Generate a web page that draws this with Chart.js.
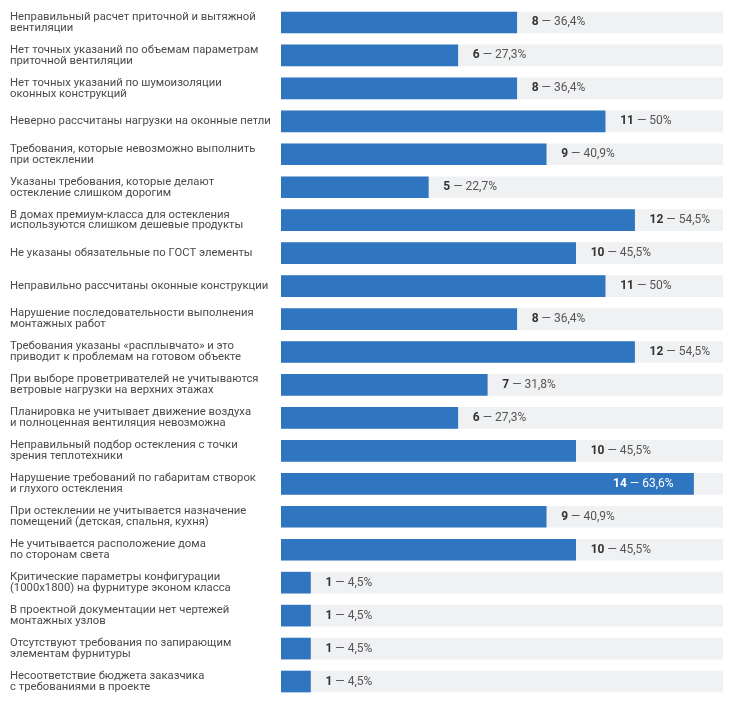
<!DOCTYPE html>
<html>
<head>
<meta charset="utf-8">
<script src="https://cdn.jsdelivr.net/npm/chart.js@4/dist/chart.umd.min.js"></script>
<style>
  html, body { margin: 0; padding: 0; background: #fff; }
  #wrap { width: 734px; height: 714px; }
</style>
</head>
<body>
<div id="wrap"><canvas id="chart"></canvas></div>
<script>
const labels = [
  ["Неправильный расчет приточной и вытяжной", "вентиляции"],
  ["Нет точных указаний по объемам параметрам", "приточной вентиляции"],
  ["Нет точных указаний по шумоизоляции", "оконных конструкций"],
  "Неверно рассчитаны нагрузки на оконные петли",
  ["Требования, которые невозможно выполнить", "при остеклении"],
  ["Указаны требования, которые делают", "остекление слишком дорогим"],
  ["В домах премиум-класса для остекления", "используются слишком дешевые продукты"],
  "Не указаны обязательные по ГОСТ элементы",
  "Неправильно рассчитаны оконные конструкции",
  ["Нарушение последовательности выполнения", "монтажных работ"],
  ["Требования указаны «расплывчато» и это", "приводит к проблемам на готовом объекте"],
  ["При выборе проветривателей не учитываются", "ветровые нагрузки на верхних этажах"],
  ["Планировка не учитывает движение воздуха", "и полноценная вентиляция невозможна"],
  ["Неправильный подбор остекления с точки", "зрения теплотехники"],
  ["Нарушение требований по габаритам створок", "и глухого остекления"],
  ["При остеклении не учитывается назначение", "помещений (детская, спальня, кухня)"],
  ["Не учитывается расположение дома", "по сторонам света"],
  ["Критические параметры конфигурации", "(1000x1800) на фурнитуре эконом класса"],
  ["В проектной документации нет чертежей", "монтажных узлов"],
  ["Отсутствуют требования по запирающим", "элементам фурнитуры"],
  ["Несоответствие бюджета заказчика", "с требованиями в проекте"],
];
const counts = [8, 6, 8, 11, 9, 5, 12, 10, 11, 8, 12, 7, 6, 10, 14, 9, 10, 1, 1, 1, 1];
const percents = ["36,4%", "27,3%", "36,4%", "50%", "40,9%", "22,7%", "54,5%", "45,5%", "50%", "36,4%",
  "54,5%", "31,8%", "27,3%", "45,5%", "63,6%", "40,9%", "45,5%", "4,5%", "4,5%", "4,5%", "4,5%"];
const trackMax = 15;
const track = labels.map(() => trackMax);

const FONT = "Roboto, sans-serif";

// подписи "N — X%" справа от столбца
const valueLabels = {
  id: "valueLabels",
  afterDatasetsDraw(chart) {
    const { ctx, chartArea } = chart;
    const meta = chart.getDatasetMeta(0);
    ctx.save();
    ctx.textBaseline = "middle";
    meta.data.forEach((bar, i) => {
      const num = String(counts[i]);
      const rest = " — " + percents[i];
      ctx.font = "bold 12px " + FONT;
      const wNum = ctx.measureText(num).width;
      ctx.font = "12px " + FONT;
      const wRest = ctx.measureText(rest).width;
      let x = bar.x + 15;
      let inside = false;
      if (x + wNum + wRest > chartArea.right - 5) {
        x = bar.x - 20 - wNum - wRest;
        inside = true;
      }
      ctx.textAlign = "left";
      ctx.font = "bold 12px " + FONT;
      ctx.fillStyle = inside ? "#ffffff" : "#333333";
      ctx.fillText(num, x, bar.y);
      ctx.font = "12px " + FONT;
      ctx.fillStyle = inside ? "#ffffff" : "#555555";
      ctx.fillText(rest, x + wNum, bar.y);
    });
    ctx.restore();
  },
};

new Chart(document.getElementById("chart"), {
  type: "bar",
  data: {
    labels,
    datasets: [
      {
        data: counts,
        backgroundColor: "#3075c0",
        barThickness: 21,
        grouped: false,
      },
      {
        data: track,
        backgroundColor: "#f0f1f3",
        barThickness: 21,
        grouped: false,
      },
    ],
  },
  options: {
    indexAxis: "y",
    responsive: true,
    maintainAspectRatio: false,
    animation: false,
    layout: { padding: { left: 10, right: 11, top: 6, bottom: 16 } },
    plugins: {
      legend: { display: false },
      tooltip: { enabled: false },
    },
    scales: {
      x: {
        display: false,
        min: 0,
        max: trackMax,
      },
      y: {
        grid: { display: false },
        border: { display: false },
        afterFit(scale) {
          scale.width = 271;
          scale.paddingTop = 0;
          scale.paddingBottom = 0;
        },
        ticks: {
          crossAlign: "far",
          color: "#4a4a4a",
          font: { family: FONT, size: 11.3, lineHeight: 0.97 },
        },
      },
    },
  },
  plugins: [valueLabels],
});
</script>
</body>
</html>
